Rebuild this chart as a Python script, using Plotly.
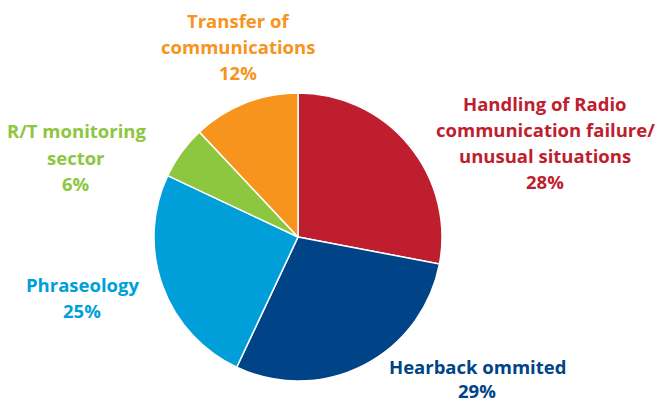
import plotly.graph_objects as go

# Share of occurrences by category, clockwise from 12 o'clock
categories = [
    "Handling of Radio communication failure/ unusual situations",
    "Hearback ommited",
    "Phraseology",
    "R/T monitoring sector",
    "Transfer of communications",
]
shares = [28, 29, 25, 6, 12]
colors = ["#BE1E2D", "#004387", "#009FDA", "#8DC63F", "#F7941D"]

# Wrapped label lines (category text), percentage appended below
label_lines = [
    ["Handling of Radio", "communication failure/", "unusual situations"],
    ["Hearback ommited"],
    ["Phraseology"],
    ["R/T monitoring", "sector"],
    ["Transfer of", "communications"],
]

W, H = 658, 404
# label anchor: centre x and top-line y in pixels
label_pos = [(545, 103), (477, 366), (82, 284), (76, 131), (238, 20)]
line_step = 26.3

fig = go.Figure(
    go.Pie(
        labels=categories,
        values=shares,
        sort=False,
        direction="clockwise",
        rotation=0,
        marker=dict(colors=colors, line=dict(color="white", width=1.5)),
        textinfo="none",
        hoverinfo="label+percent",
        showlegend=False,
        domain=dict(x=[154 / W, 442 / W], y=[(H - 381) / H, (H - 93) / H]),
    )
)

annotations = []
for lines, share, color, (cx, ty) in zip(label_lines, shares, colors, label_pos):
    n = len(lines) + 1
    for i, txt in enumerate(lines + [f"{share}%"]):
        # the last line of the bottom label sits close to the page edge
        step = line_step if ty < 300 else line_step - 2
        annotations.append(
            dict(
                x=cx / W,
                y=(H - (ty + i * step)) / H,
                xref="paper",
                yref="paper",
                text=f"<b>{txt}</b>",
                showarrow=False,
                xanchor="center",
                yanchor="middle",
                borderpad=0,
                font=dict(family="Open Sans", size=18.5, color=color),
            )
        )

fig.update_layout(
    width=W,
    height=H,
    margin=dict(l=0, r=0, t=0, b=0),
    paper_bgcolor="white",
    plot_bgcolor="white",
    annotations=annotations,
)

fig.write_html("out.html")
